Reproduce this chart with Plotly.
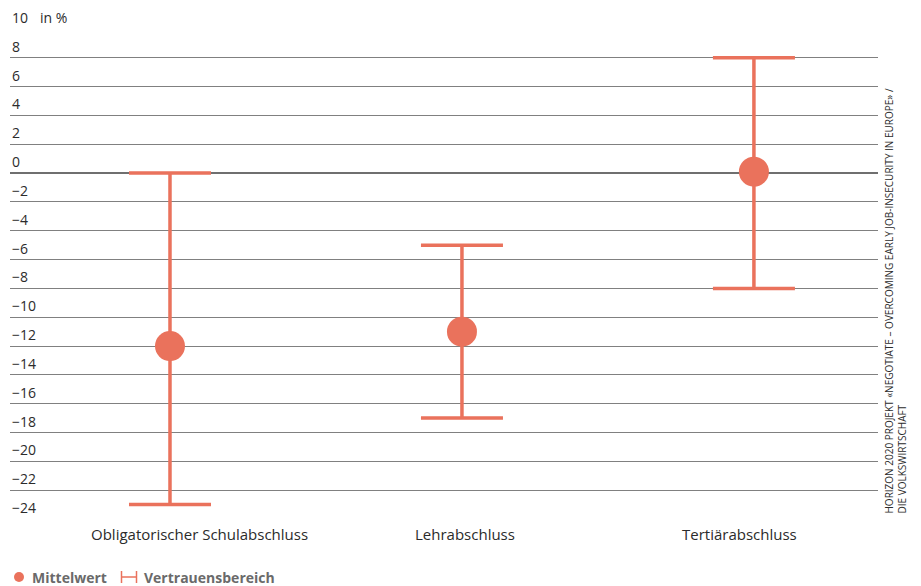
import plotly.graph_objects as go

# Data
categories = ["Obligatorischer Schulabschluss", "Lehrabschluss", "Tertiärabschluss"]
mean_values = [-12, -11, 0.1]
ci_upper = [0, -5, 8]
ci_lower = [-23, -17, -8]
y_ticks = [10, 8, 6, 4, 2, 0, -2, -4, -6, -8, -10, -12, -14, -16, -18, -20, -22, -24]
label_shift = [30, 3, -14]

CORAL = "#EA725C"
GRID = "#808080"
TEXT = "#2b2b2b"
FONT = "Open Sans"

W, H = 921, 586
ML, MR, MT, MB = 10, 43, 29, 67
PW, PH = W - ML - MR, H - MT - MB

def px_x(px):
    return (px - ML) / PW

def px_y(py):
    return (H - MB - py) / PH

err_plus = [u - m for u, m in zip(ci_upper, mean_values)]
err_minus = [m - l for m, l in zip(mean_values, ci_lower)]

fig = go.Figure()
fig.add_trace(go.Scatter(
    x=categories, y=mean_values, mode="markers",
    marker=dict(size=30, color=CORAL, line=dict(width=0)),
    error_y=dict(type="data", symmetric=False, array=err_plus, arrayminus=err_minus,
                 color=CORAL, thickness=3.5, width=41),
    showlegend=False, hoverinfo="skip",
))

annotations = []
for v in y_ticks:
    label = str(v).replace("-", "\u2212")
    annotations.append(dict(
        x=0, xref="paper", y=v, yref="y", text=label, showarrow=False,
        xanchor="left", yanchor="bottom",
        font=dict(family=FONT, size=14, color=TEXT),
    ))
annotations.append(dict(
    x=px_x(38), xref="paper", y=10, yref="y", text="in %", showarrow=False,
    xanchor="left", yanchor="bottom", font=dict(family=FONT, size=14, color=TEXT),
))

# Category labels below the plot
for cat, shift in zip(categories, label_shift):
    annotations.append(dict(
        x=cat, xref="x", y=px_y(534), yref="paper", text=cat, showarrow=False,
        xanchor="center", yanchor="middle", xshift=shift,
        font=dict(family=FONT, size=15, color=TEXT),
    ))

# Source note on the right edge
annotations.append(dict(
    x=px_x(895), xref="paper", y=px_y(516), yref="paper",
    text="HORIZON 2020 PROJEKT «NEGOTIATE – OVERCOMING EARLY JOB-INSECURITY IN EUROPE» /<br>DIE VOLKSWIRTSCHAFT",
    showarrow=False, textangle=-90, align="left", xanchor="center", yanchor="bottom",
    font=dict(family=FONT, size=10, color=TEXT),
))

# Legend
annotations.append(dict(
    x=px_x(30), xref="paper", y=px_y(577), yref="paper",
    text="<b>Mittelwert</b>",
    showarrow=False, xanchor="left", yanchor="middle",
    font=dict(family=FONT, size=14, color="#6a6a6a"),
))
annotations.append(dict(
    x=px_x(142), xref="paper", y=px_y(577), yref="paper",
    text="<b>Vertrauensbereich</b>",
    showarrow=False, xanchor="left", yanchor="middle",
    font=dict(family=FONT, size=14, color="#6a6a6a"),
))

shapes = [
    dict(type="circle", xref="paper", yref="paper", x0=px_x(14), x1=px_x(24),
         y0=px_y(582), y1=px_y(572), fillcolor=CORAL, line=dict(width=0)),
    dict(type="line", xref="paper", yref="paper", x0=px_x(121), x1=px_x(137),
         y0=px_y(577), y1=px_y(577), line=dict(color=CORAL, width=1.5)),
    dict(type="line", xref="paper", yref="paper", x0=px_x(121.5), x1=px_x(121.5),
         y0=px_y(571), y1=px_y(583), line=dict(color=CORAL, width=1.5)),
    dict(type="line", xref="paper", yref="paper", x0=px_x(136.5), x1=px_x(136.5),
         y0=px_y(571), y1=px_y(583), line=dict(color=CORAL, width=1.5)),
]

fig.update_layout(
    width=W, height=H,
    margin=dict(l=ML, r=MR, t=MT, b=MB),
    paper_bgcolor="white", plot_bgcolor="white",
    font=dict(family=FONT, size=14, color=TEXT),
    annotations=annotations, shapes=shapes,
    xaxis=dict(range=[-0.548, 2.425], showgrid=False, zeroline=False, showline=False,
               showticklabels=False, ticks="", fixedrange=True),
    yaxis=dict(range=[-24, 10], tickvals=y_ticks, showticklabels=False, showgrid=True,
               gridcolor=GRID, gridwidth=1, zeroline=True, zerolinecolor="#6f6f6f",
               zerolinewidth=2, showline=False, ticks="", fixedrange=True),
)

fig.write_html("out.html")
